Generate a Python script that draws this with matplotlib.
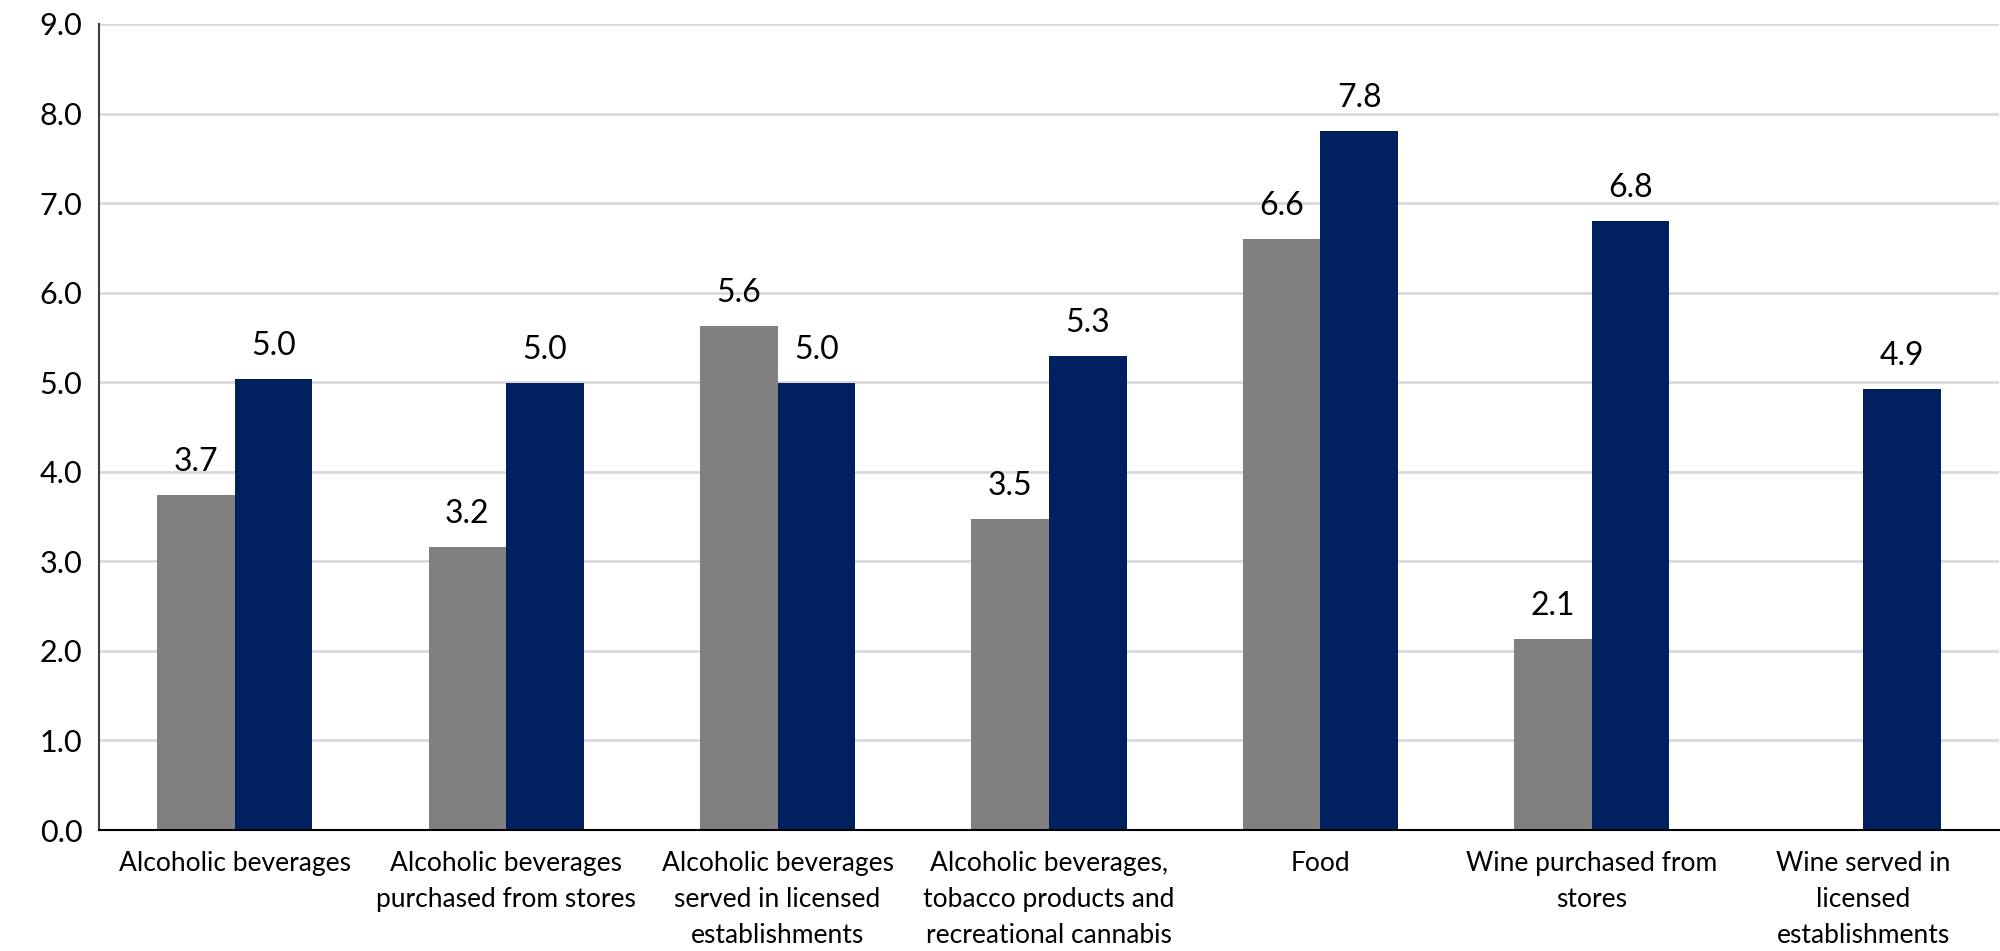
import numpy as np
import matplotlib.pyplot as plt

categories = [
    "Alcoholic beverages",
    "Alcoholic beverages\npurchased from stores",
    "Alcoholic beverages\nserved in licensed\nestablishments",
    "Alcoholic beverages,\ntobacco products and\nrecreational cannabis",
    "Food",
    "Wine purchased from\nstores",
    "Wine served in\nlicensed\nestablishments",
]
grey_vals = [3.74, 3.16, 5.63, 3.47, 6.60, 2.13, np.nan]
navy_vals = [5.04, 4.99, 4.99, 5.29, 7.80, 6.80, 4.92]
yticks = np.arange(0, 10, 1.0)

plt.rcParams['font.family'] = ['Lato', 'DejaVu Sans']

fig = plt.figure(figsize=(20, 9.51), dpi=100)
ax = fig.add_axes([0.0495, 0.1272, 0.9500, 0.8476])

x = np.arange(len(categories))
w = 0.286
b1 = ax.bar(x - w / 2, grey_vals, w, color='#808080', zorder=2)
b2 = ax.bar(x + w / 2, navy_vals, w, color='#002060', zorder=2)

# value labels above each bar
for bars, vals in ((b1, grey_vals), (b2, navy_vals)):
    for rect, v in zip(bars, vals):
        if np.isnan(v):
            continue
        ax.annotate(f"{v:.1f}", (rect.get_x() + rect.get_width() / 2, v),
                    xytext=(0, 13), textcoords='offset points',
                    ha='center', va='bottom', fontsize=23, color='#000000')

ax.set_xlim(-0.5, len(categories) - 0.5)
ax.set_ylim(0, 9)
ax.set_yticks(yticks)
ax.set_yticklabels([f"{t:.1f}" for t in yticks], fontsize=22)
ax.set_xticks(x)
ax.set_xticklabels(categories, fontsize=19, linespacing=1.55)
ax.tick_params(axis='both', length=0)
ax.tick_params(axis='x', pad=15)
ax.tick_params(axis='y', pad=12)

ax.grid(axis='y', color='#d9d9d9', linewidth=2, zorder=0)
for s in ('top', 'right'):
    ax.spines[s].set_visible(False)
ax.spines['left'].set_color('#404040')
ax.spines['left'].set_linewidth(1.5)
ax.spines['bottom'].set_color('#000000')
ax.spines['bottom'].set_linewidth(1.5)

fig.savefig('out.png', dpi=100)
